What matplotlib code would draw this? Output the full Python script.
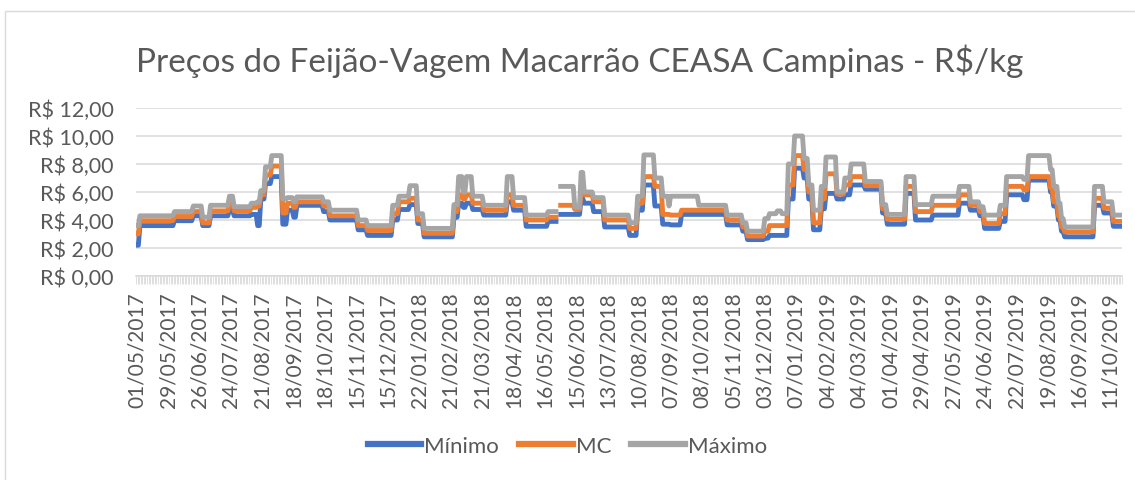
import numpy as np
import matplotlib
matplotlib.use("Agg")
import matplotlib.pyplot as plt
from matplotlib.patches import Rectangle

# run lengths (number of daily quotes) for each price level
runs = [2, 22, 12, 6, 5, 12, 3, 11, 4, 2, 3, 4, 7, 3, 4, 2, 17, 4, 18, 6,
        16, 4, 7, 5, 4, 19, 3, 3, 2, 4, 7, 15, 4, 8, 14, 6, 2, 9, 4, 2,
        6, 7, 16, 5, 4, 7, 5, 4, 1, 7, 11, 18, 10, 3, 11, 3, 5, 3, 4, 4,
        6, 3, 3, 5, 3, 7, 5, 4, 9, 11, 3, 12, 6, 11, 17, 7, 6, 3, 10, 4,
        11, 3, 14, 2, 3, 2, 2, 19, 6, 6, 6]

nan = np.nan
minimo = [2.2, 3.6, 3.95, 4.3, 3.6, 4.3, 4.7, 4.3, 4.4, 3.6, 5.5, 6.6, 7.1, 3.7, 4.7, 4.2, 5.05, 4.6, 4.0, 3.3,
          2.9, 4.0, 4.75, 5.1, 3.75, 2.8, 4.2, 5.2, 4.9, 5.2, 4.75, 4.35, 5.3, 4.7, 3.55, 3.9, nan, 4.4, 4.4, 5.55,
          5.2, 4.6, 3.5, 2.9, 4.7, 6.5, 5.0, 3.7, 3.7, 3.65, 4.4, 4.4, 3.65, 3.2, 2.6, 2.7, 2.9, 2.9, 2.9, 5.5,
          7.7, 7.0, 5.5, 3.3, 4.8, 5.9, 5.5, 5.8, 6.5, 6.2, 4.5, 3.7, 5.9, 4.0, 4.35, 5.2, 4.7, 4.3, 3.4, 3.9,
          5.8, 5.45, 6.85, 6.0, 5.0, 4.0, 3.2, 2.8, 5.05, 4.5, 3.55]
mc = [3.0, 3.95, 4.25, 4.6, 3.8, 4.65, 5.2, 4.65, 4.9, 5.0, 5.8, 7.2, 7.85, 4.5, 5.2, 4.9, 5.3, 5.0, 4.3, 3.6,
      3.25, 4.45, 5.3, 5.55, 4.0, 3.05, 4.6, 5.8, 5.5, 5.8, 5.2, 4.7, 5.8, 5.05, 4.0, 4.2, nan, 5.05, 4.75, 5.95,
      5.8, 5.3, 4.0, 3.4, 5.2, 7.1, 6.4, 4.4, 4.4, 4.35, 4.7, 4.7, 4.0, 3.5, 2.85, 3.2, 3.6, 3.6, 3.6, 6.5,
      8.6, 7.6, 6.0, 3.8, 5.5, 7.3, 5.85, 6.5, 7.1, 6.45, 4.8, 4.05, 6.4, 4.6, 5.05, 5.8, 5.05, 4.6, 3.75, 4.45,
      6.4, 6.15, 7.1, 6.3, 5.3, 4.3, 3.5, 3.15, 5.55, 4.85, 3.9]
maximo = [3.6, 4.3, 4.6, 5.0, 4.2, 5.05, 5.7, 4.95, 5.2, 5.3, 6.1, 7.8, 8.6, 5.5, 5.6, 5.3, 5.65, 5.3, 4.7, 4.0,
          3.6, 5.05, 5.7, 6.45, 4.45, 3.4, 5.1, 7.1, 6.0, 7.1, 5.7, 5.05, 7.1, 5.6, 4.35, 4.6, nan, 6.4, 4.9, 7.4,
          6.0, 5.6, 4.35, 3.8, 5.7, 8.65, 7.0, 5.7, 5.0, 5.7, 5.7, 5.05, 4.35, 3.8, 3.2, 4.1, 4.45, 4.65, 4.45, 8.0,
          10.0, 8.4, 6.5, 4.7, 6.4, 8.5, 6.0, 7.0, 8.0, 6.75, 5.1, 4.4, 7.1, 5.1, 5.7, 6.4, 5.3, 4.95, 4.35, 5.05,
          7.1, 6.9, 8.6, 7.6, 6.4, 5.2, 4.1, 3.5, 6.4, 5.3, 4.35]

tick_labels = ["01/05/2017", "29/05/2017", "26/06/2017", "24/07/2017", "21/08/2017", "18/09/2017",
               "18/10/2017", "15/11/2017", "15/12/2017", "22/01/2018", "21/02/2018", "21/03/2018",
               "18/04/2018", "16/05/2018", "15/06/2018", "13/07/2018", "10/08/2018", "07/09/2018",
               "08/10/2018", "05/11/2018", "03/12/2018", "07/01/2019", "04/02/2019", "04/03/2019",
               "01/04/2019", "29/04/2019", "27/05/2019", "24/06/2019", "22/07/2019", "19/08/2019",
               "16/09/2019", "11/10/2019"]
label_step = 20

plt.rcParams['font.family'] = ['Lato', 'DejaVu Sans']
text_color = '#595959'
grid_color = '#D9D9D9'

y_min = np.repeat(minimo, runs)
y_mc = np.repeat(mc, runs)
y_max = np.repeat(maximo, runs)
n = len(y_min)
x = np.arange(n)

fig = plt.figure(figsize=(11.35, 4.81), dpi=100)
ax = fig.add_axes([136 / 1135, 1 - 277 / 481, (1122 - 136) / 1135, (277 - 109) / 481])

ax.plot(x, y_min, color='#4472C4', lw=3.5, label='Mínimo', solid_joinstyle='round')
ax.plot(x, y_mc, color='#ED7D31', lw=3.5, label='MC', solid_joinstyle='round')
ax.plot(x, y_max, color='#A5A5A5', lw=3.5, label='Máximo', solid_joinstyle='round')

ax.set_xlim(-0.5, n - 0.5)
ax.set_ylim(0, 12)
yt = np.arange(0, 13, 2)
ax.set_yticks(yt)
ax.set_yticklabels([f"R$ {v:.2f}".replace('.', ',') for v in yt])
ax.tick_params(axis='y', length=0, pad=16, labelsize=15.5, labelcolor=text_color)
ax.grid(axis='y', color=grid_color, lw=1.1)
ax.set_axisbelow(True)

ax.set_xticks(np.arange(len(tick_labels)) * label_step)
ax.set_xticklabels(tick_labels, rotation=90)
ax.set_xticks(np.arange(n + 1) - 0.5, minor=True)
ax.tick_params(axis='x', which='major', length=0, pad=11, labelsize=15, labelcolor=text_color)
ax.tick_params(axis='x', which='minor', length=6, width=0.6, color=grid_color)

for s in ['top', 'right', 'left']:
    ax.spines[s].set_visible(False)
ax.spines['bottom'].set_color(grid_color)
ax.spines['bottom'].set_linewidth(1.1)

fig.text(0.511, 1 - 61 / 481, "Preços do Feijão-Vagem Macarrão CEASA Campinas - R$/kg",
         ha='center', va='center', fontsize=24, color=text_color)

leg = fig.legend(loc='center', bbox_to_anchor=(0.5, 1 - 447 / 481), ncol=3, frameon=False,
                 fontsize=16, handlelength=2.4, handletextpad=0.15, columnspacing=0.9)
for t in leg.get_texts():
    t.set_color(text_color)
for h in leg.get_lines():
    h.set_linewidth(4.5)

fig.patches.append(Rectangle((5 / 1135, -0.05), 1.2, 1 - 12 / 481 + 0.05, transform=fig.transFigure,
                             fill=False, ec=grid_color, lw=1))

fig.savefig("out.png", dpi=100)
